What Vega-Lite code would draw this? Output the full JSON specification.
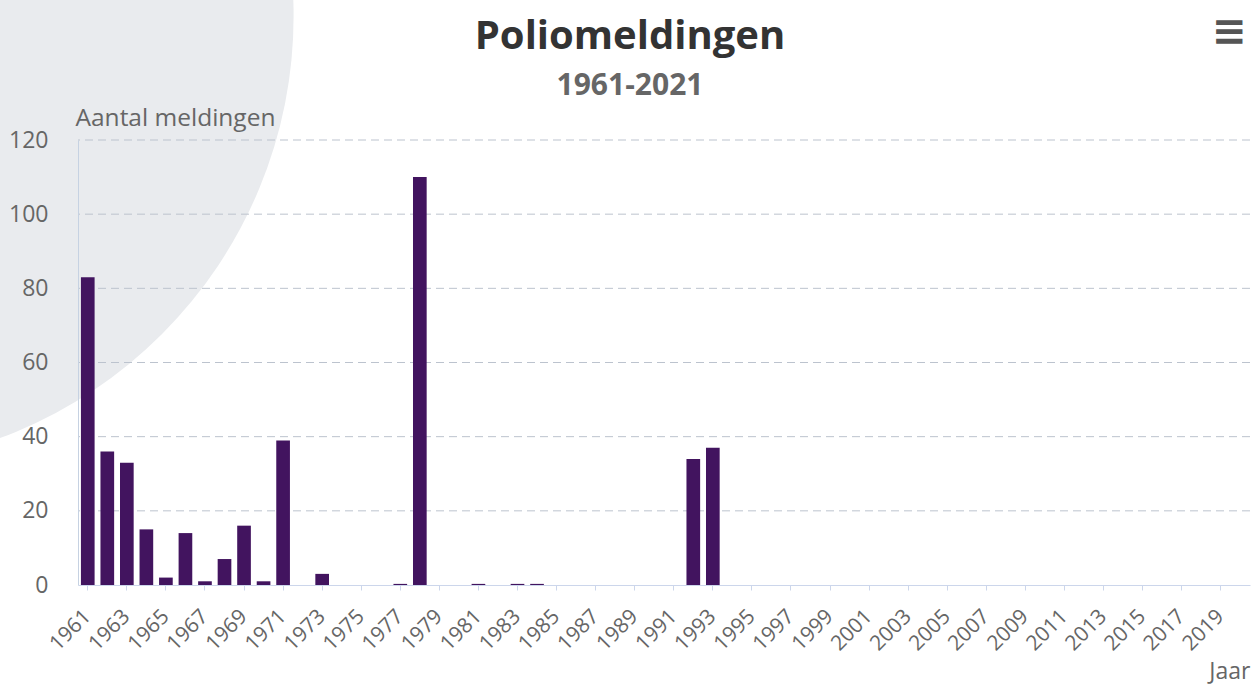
{
  "$schema": "https://vega.github.io/schema/vega-lite/v6.json",
  "autosize": "none",
  "width": 1172,
  "height": 445,
  "padding": {"left": 78, "top": 140, "right": 1, "bottom": 101},
  "background": "#ffffff",
  "title": {
    "text": "Poliomeldingen",
    "subtitle": "1961-2021",
    "font": "Open Sans",
    "fontSize": 40,
    "fontWeight": "bold",
    "color": "#333333",
    "subtitleFont": "Open Sans",
    "subtitleFontSize": 30,
    "subtitleFontWeight": "bold",
    "subtitleColor": "#666666",
    "subtitlePadding": 14,
    "anchor": "middle",
    "frame": "group",
    "dx": -34,
    "offset": -535
  },
  "datasets": {
    "polio": [
      {"jaar": 1961, "meldingen": 83},
      {"jaar": 1962, "meldingen": 36},
      {"jaar": 1963, "meldingen": 33},
      {"jaar": 1964, "meldingen": 15},
      {"jaar": 1965, "meldingen": 2},
      {"jaar": 1966, "meldingen": 14},
      {"jaar": 1967, "meldingen": 1},
      {"jaar": 1968, "meldingen": 7},
      {"jaar": 1969, "meldingen": 16},
      {"jaar": 1970, "meldingen": 1},
      {"jaar": 1971, "meldingen": 39},
      {"jaar": 1972, "meldingen": 0},
      {"jaar": 1973, "meldingen": 3},
      {"jaar": 1974, "meldingen": 0},
      {"jaar": 1975, "meldingen": 0},
      {"jaar": 1976, "meldingen": 0},
      {"jaar": 1977, "meldingen": 0.3},
      {"jaar": 1978, "meldingen": 110},
      {"jaar": 1979, "meldingen": 0},
      {"jaar": 1980, "meldingen": 0},
      {"jaar": 1981, "meldingen": 0.3},
      {"jaar": 1982, "meldingen": 0},
      {"jaar": 1983, "meldingen": 0.3},
      {"jaar": 1984, "meldingen": 0.3},
      {"jaar": 1985, "meldingen": 0},
      {"jaar": 1986, "meldingen": 0},
      {"jaar": 1987, "meldingen": 0},
      {"jaar": 1988, "meldingen": 0},
      {"jaar": 1989, "meldingen": 0},
      {"jaar": 1990, "meldingen": 0},
      {"jaar": 1991, "meldingen": 0},
      {"jaar": 1992, "meldingen": 34},
      {"jaar": 1993, "meldingen": 37},
      {"jaar": 1994, "meldingen": 0},
      {"jaar": 1995, "meldingen": 0},
      {"jaar": 1996, "meldingen": 0},
      {"jaar": 1997, "meldingen": 0},
      {"jaar": 1998, "meldingen": 0},
      {"jaar": 1999, "meldingen": 0},
      {"jaar": 2000, "meldingen": 0},
      {"jaar": 2001, "meldingen": 0},
      {"jaar": 2002, "meldingen": 0},
      {"jaar": 2003, "meldingen": 0},
      {"jaar": 2004, "meldingen": 0},
      {"jaar": 2005, "meldingen": 0},
      {"jaar": 2006, "meldingen": 0},
      {"jaar": 2007, "meldingen": 0},
      {"jaar": 2008, "meldingen": 0},
      {"jaar": 2009, "meldingen": 0},
      {"jaar": 2010, "meldingen": 0},
      {"jaar": 2011, "meldingen": 0},
      {"jaar": 2012, "meldingen": 0},
      {"jaar": 2013, "meldingen": 0},
      {"jaar": 2014, "meldingen": 0},
      {"jaar": 2015, "meldingen": 0},
      {"jaar": 2016, "meldingen": 0},
      {"jaar": 2017, "meldingen": 0},
      {"jaar": 2018, "meldingen": 0},
      {"jaar": 2019, "meldingen": 0},
      {"jaar": 2020, "meldingen": 0}
    ],
    "grid": [
      {"niveau": 20}, {"niveau": 40}, {"niveau": 60}, {"niveau": 80}, {"niveau": 100}, {"niveau": 120}
    ]
  },
  "layer": [
    {
      "data": {"values": [{}]},
      "mark": {"type": "point", "filled": true, "color": "#e9ebee", "opacity": 1, "strokeWidth": 0, "size": 810000},
      "encoding": {
        "x": {"datum": -12, "type": "quantitative", "scale": {"domain": [0, 60], "nice": false, "zero": false}, "axis": null},
        "y": {"datum": 153.4, "type": "quantitative", "title": "Aantal meldingen"}
      }
    },
    {
      "data": {"name": "grid"},
      "mark": {"type": "rule", "color": "#bcc3ce", "strokeWidth": 1, "strokeDash": [8, 5]},
      "encoding": {
        "y": {"field": "niveau", "type": "quantitative", "title": "Aantal meldingen"}
      }
    },
    {
      "data": {"name": "polio"},
      "mark": {"type": "bar", "color": "#42145f"},
      "encoding": {
        "x": {
          "field": "jaar",
          "type": "ordinal",
          "scale": {"paddingInner": 0.3, "paddingOuter": 0.15},
          "axis": {
            "values": [1961, 1963, 1965, 1967, 1969, 1971, 1973, 1975, 1977, 1979, 1981, 1983, 1985, 1987, 1989, 1991, 1993, 1995, 1997, 1999, 2001, 2003, 2005, 2007, 2009, 2011, 2013, 2015, 2017, 2019],
            "labelAngle": -45,
            "labelAlign": "right",
            "labelBaseline": "middle",
            "labelFont": "Open Sans",
            "labelFontSize": 21,
            "labelColor": "#666666",
            "labelPadding": 23,
            "tickColor": "#ccd6eb",
            "tickSize": 5,
            "domainColor": "#ccd6eb",
            "grid": false,
            "title": "Jaar",
            "titleFont": "Open Sans",
            "titleFontSize": 23,
            "titleFontWeight": "normal",
            "titleColor": "#666666",
            "titleAnchor": "end",
            "titleAlign": "right",
            "titleBaseline": "alphabetic",
            "titleX": 1172,
            "titleY": 93
          }
        },
        "y": {
          "field": "meldingen",
          "type": "quantitative",
          "scale": {"domain": [0, 120], "nice": false},
          "title": "Aantal meldingen",
          "axis": {
            "values": [0, 20, 40, 60, 80, 100, 120],
            "grid": false,
            "zindex": 1,
            "ticks": false,
            "domain": true,
            "domainColor": "#c6d2e2",
            "labelFont": "Open Sans",
            "labelFontSize": 23,
            "labelColor": "#666666",
            "labelPadding": 30,
            "titleAngle": 0,
            "titleAlign": "left",
            "titleBaseline": "alphabetic",
            "titleX": -3,
            "titleY": -15,
            "titleFont": "Open Sans",
            "titleFontSize": 24.5,
            "titleFontWeight": "normal",
            "titleColor": "#666666"
          }
        }
      }
    },
    {
      "data": {"values": [{}]},
      "mark": {"type": "text", "text": "≡", "font": "DejaVu Sans", "fontSize": 42, "fontWeight": "bold", "color": "#555555", "align": "center", "baseline": "middle"},
      "encoding": {
        "x": {"datum": 58.93, "type": "quantitative", "scale": {"domain": [0, 60], "nice": false, "zero": false}, "axis": null},
        "y": {"datum": 149.1, "type": "quantitative", "title": "Aantal meldingen"}
      }
    }
  ],
  "resolve": {"scale": {"x": "independent"}},
  "config": {
    "font": "Open Sans",
    "view": {"stroke": null}
  }
}
